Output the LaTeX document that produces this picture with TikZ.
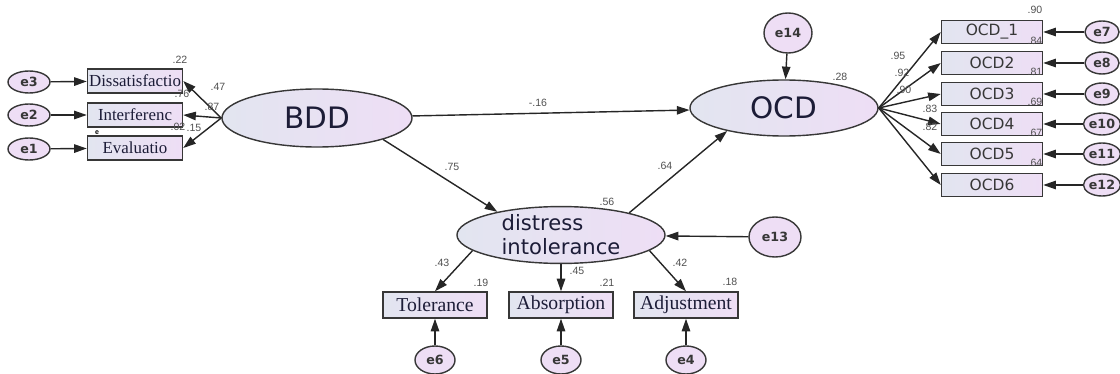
\documentclass[tikz,border=0pt]{standalone}
\usepackage{fontspec}
\setmainfont{Liberation Sans}
\newfontfamily\dejavu{DejaVu Sans}
\newfontfamily\timesfont{Liberation Serif}
\usetikzlibrary{shapes.geometric, arrows.meta}

\definecolor{lavendel}{RGB}{238,222,245}
\definecolor{graublau}{RGB}{226,229,240}
\definecolor{rand}{RGB}{55,55,55}
\definecolor{zahl}{RGB}{80,80,80}
\definecolor{schrift}{RGB}{28,28,55}

\tikzset{
  latent/.style={ellipse, draw=rand, line width=1pt, left color=graublau, right color=lavendel, inner sep=0pt, text=schrift},
  manifest/.style={rectangle, draw=rand, line width=1pt, left color=graublau, right color=lavendel, inner sep=1pt, text=schrift},
  fehler/.style={ellipse, draw=rand, line width=1pt, fill=lavendel, inner sep=0pt, text=rand, font=\dejavu\bfseries\fontsize{9}{10}\selectfont},
  pfeil/.style={-{Triangle[length=9pt,width=6pt]}, line width=1pt, draw=black!85},
  wert/.style={inner sep=0pt, text=zahl, font=\fontsize{7.5}{8}\selectfont},
}

\begin{document}
\begin{tikzpicture}[x=0.025cm, y=-0.025cm]
  \useasboundingbox (0,0) rectangle (1120,374);

  % Latente Variablen
  \node[latent, minimum width=4.75cm, minimum height=1.45cm, font=\dejavu\fontsize{21}{24}\selectfont] (bdd) at (317,118) {BDD};
  \node[latent, minimum width=4.7cm, minimum height=1.4cm, font=\dejavu\fontsize{21}{24}\selectfont] (ocd) at (784,108) {OCD};
  \node[latent, minimum width=5.2cm, minimum height=1.375cm, align=left, font=\dejavu\fontsize{15}{17}\selectfont] (dist) at (561,235) {distress\\intolerance};

  % Indikatoren von BDD
  \node[manifest, minimum width=2.375cm, minimum height=0.6cm, font=\timesfont\fontsize{12}{13}\selectfont] (dis) at (135,81) {Dissatisfactio};
  \node[manifest, minimum width=2.375cm, minimum height=0.6cm, font=\timesfont\fontsize{12}{13}\selectfont] (inter) at (135,115) {Interferenc};
  \node[manifest, minimum width=2.375cm, minimum height=0.6cm, font=\timesfont\fontsize{12}{13}\selectfont] (eva) at (135,148) {Evaluatio};
  \node[fehler, minimum width=1.05cm, minimum height=0.55cm] (e3) at (29,82) {e3};
  \node[fehler, minimum width=1.05cm, minimum height=0.55cm] (e2) at (29,115) {e2};
  \node[fehler, minimum width=1.05cm, minimum height=0.55cm] (e1) at (29,149) {e1};
  \node[inner sep=0pt, font=\fontsize{5}{5}\selectfont\bfseries] (punkt) at (97,133) {e};

  % Indikatoren von distress intolerance
  \node[manifest, minimum width=2.6cm, minimum height=0.65cm, font=\timesfont\fontsize{14}{15}\selectfont] (tol) at (435,305) {Tolerance};
  \node[manifest, minimum width=2.6cm, minimum height=0.65cm, font=\timesfont\fontsize{14}{15}\selectfont] (abs) at (561,305) {Absorption};
  \node[manifest, minimum width=2.6cm, minimum height=0.65cm, font=\timesfont\fontsize{14}{15}\selectfont] (adj) at (686,305) {Adjustment};
  \node[fehler, minimum width=1.0cm, minimum height=0.7cm] (e6) at (435,360) {e6};
  \node[fehler, minimum width=1.0cm, minimum height=0.7cm] (e5) at (561,360) {e5};
  \node[fehler, minimum width=1.0cm, minimum height=0.7cm] (e4) at (686,360) {e4};
  \node[fehler, minimum width=1.3cm, minimum height=1.0cm] (e13) at (775,237) {e13};
  \node[fehler, minimum width=1.2cm, minimum height=1.0cm] (e14) at (788,33) {e14};

  % Indikatoren von OCD
  \foreach \i/\txt/\y in {1/OCD\_1/32, 2/OCD2/63, 3/OCD3/94, 4/OCD4/124, 5/OCD5/154, 6/OCD6/185} {
    \node[manifest, minimum width=2.525cm, minimum height=0.575cm, font=\dejavu\fontsize{11}{12}\selectfont, text=rand] (o\i) at (992,\y) {\txt};
    \pgfmathtruncatemacro{\e}{\i+6}
    \node[fehler, minimum width=0.85cm, minimum height=0.55cm] (f\i) at (1102,\y) {e\e};
    \draw[pfeil] (f\i) -- (o\i);
    \draw[pfeil] (ocd.east) -- (o\i.west);
  }

  % Pfade
  \draw[pfeil] (e3) -- (dis);
  \draw[pfeil] (e2) -- (inter);
  \draw[pfeil] (e1) -- (eva);
  \draw[pfeil] (bdd.west) -- (dis.east);
  \draw[pfeil] (bdd.west) -- (inter.east);
  \draw[pfeil] (bdd.west) -- (eva.east);
  \draw[pfeil] (bdd) -- (ocd);
  \draw[pfeil] (bdd.-18) -- (dist.160);
  \draw[pfeil] (dist.18) -- (ocd.-158);
  \draw[pfeil] (e14) -- (ocd);
  \draw[pfeil] (e13) -- (dist);
  \draw[pfeil] (dist.-170) -- (tol.north);
  \draw[pfeil] (dist.south) -- (abs.north);
  \draw[pfeil] (dist.-10) -- (adj.north);
  \draw[pfeil] (e6) -- (tol);
  \draw[pfeil] (e5) -- (abs);
  \draw[pfeil] (e4) -- (adj);

  % Koeffizienten
  \node[wert] (r_dis) at (180,60) {.22};
  \node[wert] (l_dis) at (218,87) {.47};
  \node[wert] (r_int) at (182,94) {.76};
  \node[wert] (l_int) at (212,107) {.87};
  \node[wert] (r_eva) at (178,127) {.02};
  \node[wert] (l_eva) at (194,128) {.15};
  \node[wert] (l_bo) at (538,103) {-.16};
  \node[wert] (l_bd) at (452,167) {.75};
  \node[wert] (l_do) at (665,166) {.64};
  \node[wert] (r_ocd) at (840,77) {.28};
  \node[wert] (r_dist) at (607,202) {.56};
  \node[wert] (l_tol) at (442,263) {.43};
  \node[wert] (r_tol) at (481,283) {.19};
  \node[wert] (l_abs) at (577,271) {.45};
  \node[wert] (r_abs) at (607,283) {.21};
  \node[wert] (l_adj) at (680,263) {.42};
  \node[wert] (r_adj) at (730,282) {.18};
  \foreach \n/\x/\y/\w in {1/898/56/.95, 2/902/73/.92, 3/904/90/.90, 4/930/109/.83, 5/930/127/.82} {
    \node[wert] (l\n) at (\x,\y) {\w};
  }
  \foreach \n/\y/\w in {1/10/.90, 2/41/.84, 3/72/.81, 4/102/.69, 5/133/.67, 6/163/.64} {
    \node[wert] (r\n) at (1035,\y) {\w};
  }
\end{tikzpicture}
\end{document}
